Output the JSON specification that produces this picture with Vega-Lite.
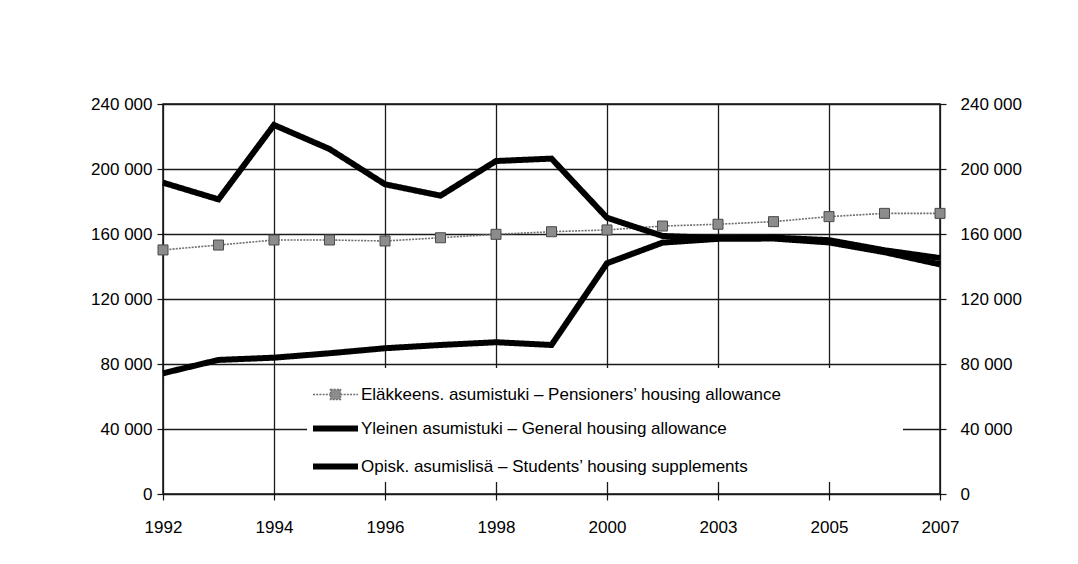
{
  "$schema": "https://vega.github.io/schema/vega-lite/v6.json",
  "width": 777,
  "height": 390,
  "autosize": {"type": "none"},
  "padding": {"left": 163, "top": 104, "right": 138, "bottom": 70},
  "background": "white",
  "config": {
    "font": "Liberation Sans",
    "view": {"stroke": "#111", "strokeWidth": 1.5}
  },
  "data": {
    "values": [
      {"year": "1992", "series": "Eläkkeens. asumistuki", "value": 150200},
      {"year": "1993", "series": "Eläkkeens. asumistuki", "value": 153200},
      {"year": "1994", "series": "Eläkkeens. asumistuki", "value": 156300},
      {"year": "1995", "series": "Eläkkeens. asumistuki", "value": 156300},
      {"year": "1996", "series": "Eläkkeens. asumistuki", "value": 155700},
      {"year": "1997", "series": "Eläkkeens. asumistuki", "value": 157700},
      {"year": "1998", "series": "Eläkkeens. asumistuki", "value": 159800},
      {"year": "1999", "series": "Eläkkeens. asumistuki", "value": 161400},
      {"year": "2000", "series": "Eläkkeens. asumistuki", "value": 162500},
      {"year": "2001", "series": "Eläkkeens. asumistuki", "value": 164900},
      {"year": "2003", "series": "Eläkkeens. asumistuki", "value": 166000},
      {"year": "2004", "series": "Eläkkeens. asumistuki", "value": 167600},
      {"year": "2005", "series": "Eläkkeens. asumistuki", "value": 170700},
      {"year": "2006", "series": "Eläkkeens. asumistuki", "value": 172700},
      {"year": "2007", "series": "Eläkkeens. asumistuki", "value": 172700},
      {"year": "1992", "series": "Yleinen asumistuki", "value": 191600},
      {"year": "1993", "series": "Yleinen asumistuki", "value": 181300},
      {"year": "1994", "series": "Yleinen asumistuki", "value": 227100},
      {"year": "1995", "series": "Yleinen asumistuki", "value": 212300},
      {"year": "1996", "series": "Yleinen asumistuki", "value": 190600},
      {"year": "1997", "series": "Yleinen asumistuki", "value": 183600},
      {"year": "1998", "series": "Yleinen asumistuki", "value": 204900},
      {"year": "1999", "series": "Yleinen asumistuki", "value": 206400},
      {"year": "2000", "series": "Yleinen asumistuki", "value": 170000},
      {"year": "2001", "series": "Yleinen asumistuki", "value": 158800},
      {"year": "2003", "series": "Yleinen asumistuki", "value": 157500},
      {"year": "2004", "series": "Yleinen asumistuki", "value": 157800},
      {"year": "2005", "series": "Yleinen asumistuki", "value": 156200},
      {"year": "2006", "series": "Yleinen asumistuki", "value": 150000},
      {"year": "2007", "series": "Yleinen asumistuki", "value": 145200},
      {"year": "1992", "series": "Opisk. asumislisä", "value": 74300},
      {"year": "1993", "series": "Opisk. asumislisä", "value": 82500},
      {"year": "1994", "series": "Opisk. asumislisä", "value": 83900},
      {"year": "1995", "series": "Opisk. asumislisä", "value": 86600},
      {"year": "1996", "series": "Opisk. asumislisä", "value": 89700},
      {"year": "1997", "series": "Opisk. asumislisä", "value": 91700},
      {"year": "1998", "series": "Opisk. asumislisä", "value": 93400},
      {"year": "1999", "series": "Opisk. asumislisä", "value": 91700},
      {"year": "2000", "series": "Opisk. asumislisä", "value": 142000},
      {"year": "2001", "series": "Opisk. asumislisä", "value": 154700},
      {"year": "2003", "series": "Opisk. asumislisä", "value": 157000},
      {"year": "2004", "series": "Opisk. asumislisä", "value": 157200},
      {"year": "2005", "series": "Opisk. asumislisä", "value": 154800},
      {"year": "2006", "series": "Opisk. asumislisä", "value": 148800},
      {"year": "2007", "series": "Opisk. asumislisä", "value": 141300}
    ]
  },
  "encoding": {
    "x": {
      "field": "year",
      "type": "ordinal",
      "scale": {"type": "point", "padding": 0},
      "axis": {
        "title": null,
        "values": ["1992", "1994", "1996", "1998", "2000", "2003", "2005", "2007"],
        "labelAngle": 0,
        "labelFontSize": 17,
        "labelColor": "#000",
        "labelPadding": 19,
        "tickSize": 6,
        "tickColor": "#111",
        "tickWidth": 1.2,
        "domain": false,
        "grid": true,
        "gridColor": "#1a1a1a",
        "gridWidth": 1.3
      }
    }
  },
  "layer": [
    {
      "mark": {"type": "line", "strokeJoin": "miter"},
      "encoding": {
        "y": {
          "field": "value",
          "type": "quantitative",
          "scale": {"domain": [0, 240000], "nice": false},
          "axis": {
            "title": null,
            "orient": "left",
            "values": [0, 40000, 80000, 120000, 160000, 200000, 240000],
            "labelExpr": "replace(format(datum.value, ','), ',', ' ')",
            "labelFontSize": 17,
            "labelColor": "#000",
            "labelPadding": 5,
            "tickSize": 6,
            "tickColor": "#111",
            "tickWidth": 1.2,
            "domain": false,
            "grid": true,
            "gridColor": "#1a1a1a",
            "gridWidth": 1.3
          }
        },
        "color": {
          "field": "series",
          "type": "nominal",
          "scale": {
            "domain": ["Eläkkeens. asumistuki", "Yleinen asumistuki", "Opisk. asumislisä"],
            "range": ["#6e6e6e", "#000000", "#000000"]
          },
          "legend": {
            "orient": "none",
            "legendX": 144,
            "legendY": 264,
            "title": null,
            "fillColor": "white",
            "strokeColor": null,
            "padding": 3,
            "rowPadding": -2,
            "labelFontSize": 17,
            "labelColor": "#000",
            "labelLimit": 2000,
            "labelOffset": 0,
            "symbolSize": 2025,
            "labelExpr": "datum.value == 'Eläkkeens. asumistuki' ? 'Eläkkeens. asumistuki – Pensioners\u2019  housing allowance\u00a0\u00a0\u00a0\u00a0\u00a0\u00a0\u00a0\u00a0\u00a0\u00a0\u00a0\u00a0\u00a0\u00a0\u00a0\u00a0\u00a0\u00a0\u00a0\u00a0\u00a0\u00a0\u00a0\u00a0\u200b' : datum.value == 'Yleinen asumistuki' ? 'Yleinen asumistuki – General housing allowance' : 'Opisk. asumislisä – Students\u2019 housing supplements'",
            "encode": {
              "symbols": {
                "update": {
                  "shape": {"signal": "datum.value == 'Eläkkeens. asumistuki' ? 'M-1,0H-0.22M0.22,0H1M-0.22,-0.22H0.22V0.22H-0.22Z' : 'M-1,0H1'"},
                  "fill": {"signal": "datum.value == 'Eläkkeens. asumistuki' ? '#8c8c8c' : 'transparent'"},
                  "stroke": {"signal": "datum.value == 'Eläkkeens. asumistuki' ? '#555555' : '#000000'"},
                  "strokeWidth": {"signal": "datum.value == 'Eläkkeens. asumistuki' ? 1.3 : 6"},
                  "strokeCap": {"value": "butt"},
                  "strokeDash": {"value": []},
                  "opacity": {"value": 1},
                  "fillOpacity": {"value": 1}
                }
              }
            }
          }
        },
        "strokeWidth": {
          "field": "series",
          "type": "nominal",
          "scale": {
            "type": "ordinal",
            "domain": ["Eläkkeens. asumistuki", "Yleinen asumistuki", "Opisk. asumislisä"],
            "range": [1.6, 6, 6]
          },
          "legend": null
        },
        "strokeDash": {
          "field": "series",
          "type": "nominal",
          "scale": {
            "domain": ["Eläkkeens. asumistuki", "Yleinen asumistuki", "Opisk. asumislisä"],
            "range": [[2, 1.2], [1, 0], [1, 0]]
          },
          "legend": null
        }
      }
    },
    {
      "transform": [{"filter": "datum.series == 'Eläkkeens. asumistuki'"}],
      "mark": {"type": "point", "shape": "square", "size": 100, "filled": true, "fill": "#8c8c8c", "stroke": "#4a4a4a", "strokeWidth": 1, "opacity": 1},
      "encoding": {
        "y": {
          "field": "value",
          "type": "quantitative",
          "axis": {
            "title": null,
            "orient": "right",
            "values": [0, 40000, 80000, 120000, 160000, 200000, 240000],
            "labelExpr": "replace(format(datum.value, ','), ',', ' ')",
            "labelFontSize": 17,
            "labelColor": "#000",
            "labelPadding": 14,
            "tickSize": 6,
            "tickColor": "#111",
            "tickWidth": 1.2,
            "domain": false,
            "grid": false
          }
        }
      }
    }
  ],
  "resolve": {"axis": {"y": "independent"}}
}
